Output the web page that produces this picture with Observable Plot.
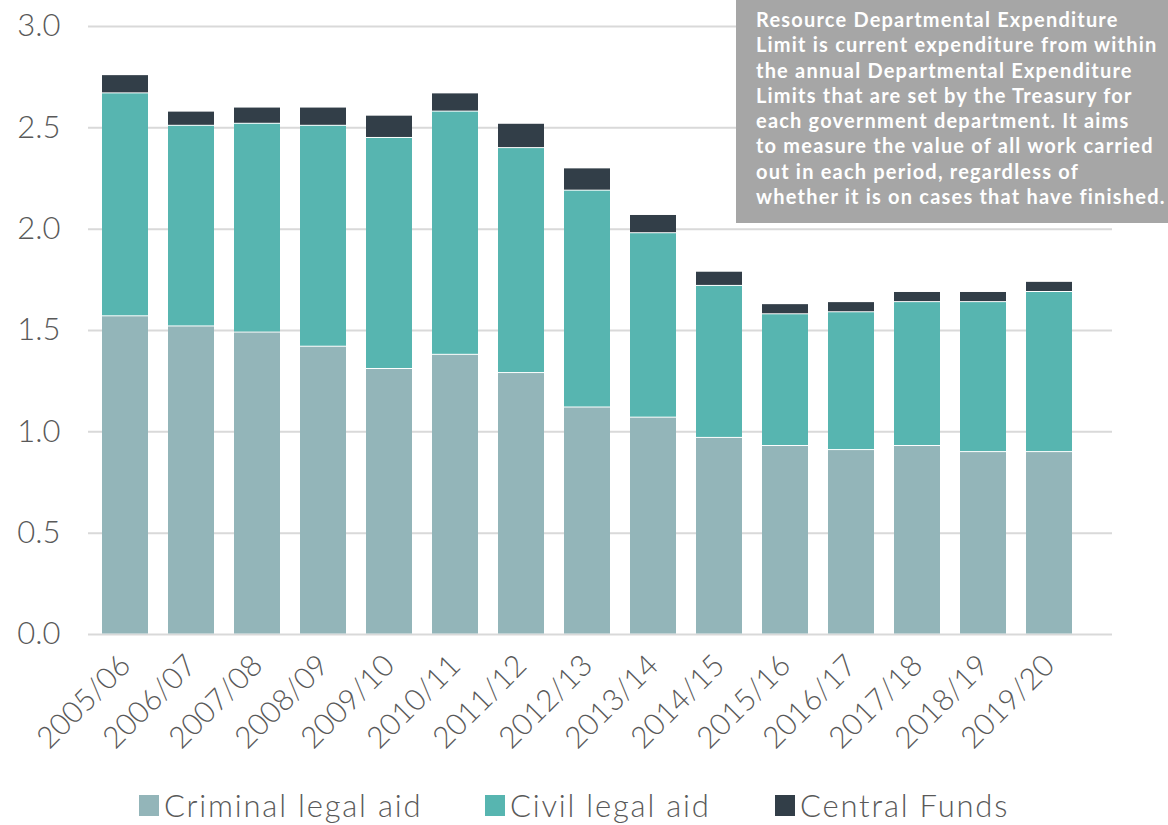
<!DOCTYPE html>
<html>
<head>
<meta charset="utf-8">
<script src="https://cdn.jsdelivr.net/npm/d3@7"></script>
<script src="https://cdn.jsdelivr.net/npm/@observablehq/plot@0.6"></script>
<style>
  body { margin: 0; background: #fff; font-family: Lato, "Noto Sans", sans-serif; }
  #wrap { position: relative; width: 1168px; height: 825px; overflow: hidden; }
  #note {
    position: absolute; left: 736px; top: 0; width: 432px; height: 223px;
    background: #a6a6a6; color: #fff; box-sizing: border-box;
    padding: 7px 0 0 20px; font-weight: bold; font-size: 20px; line-height: 25.3px;
    letter-spacing: 1.2px; white-space: nowrap;
  }
  #legend { position: absolute; left: 0; top: 0; width: 1168px; height: 825px; pointer-events: none; }
  #legend .item {
    position: absolute; top: 789px; display: flex; align-items: center; gap: 5px;
    font-size: 31px; line-height: 32px; color: #595959; font-weight: 300; letter-spacing: 1.8px;
  }
  #legend .sw { width: 20px; height: 21px; display: inline-block; }
</style>
</head>
<body>
<div id="wrap">
  <div id="chart"></div>
  <div id="note"></div>
  <div id="legend"></div>
</div>
<script>
const years = ["2005/06","2006/07","2007/08","2008/09","2009/10","2010/11","2011/12","2012/13","2013/14","2014/15","2015/16","2016/17","2017/18","2018/19","2019/20"];
const criminal = [1.57,1.52,1.49,1.42,1.31,1.38,1.29,1.12,1.07,0.97,0.93,0.91,0.93,0.90,0.90];
const civil    = [1.10,0.99,1.03,1.09,1.14,1.20,1.11,1.07,0.91,0.75,0.65,0.68,0.71,0.74,0.79];
const central  = [0.09,0.07,0.08,0.09,0.11,0.09,0.12,0.11,0.09,0.07,0.05,0.05,0.05,0.05,0.05];
const seriesNames = ["Criminal legal aid","Civil legal aid","Central Funds"];
const seriesColors = ["#93b5b9","#57b5b0","#323e48"];
const yTicks = [0,0.5,1.0,1.5,2.0,2.5,3.0];
const noteLines = [
  "Resource Departmental Expenditure",
  "Limit is current expenditure from within",
  "the annual Departmental Expenditure",
  "Limits that are set by the Treasury for",
  "each government department. It aims",
  "to measure the value of all work carried",
  "out in each period, regardless of",
  "whether it is on cases that have finished."
];

const seriesValues = [criminal, civil, central];
const rows = [];
years.forEach((y, i) => {
  seriesNames.forEach((s, j) => rows.push({year: y, series: s, value: seriesValues[j][i]}));
});

const chart = Plot.plot({
  width: 1168,
  height: 790,
  marginLeft: 88,
  marginRight: 56,
  marginTop: 26,
  marginBottom: 156,
  style: {fontFamily: "Lato, 'Noto Sans', sans-serif", color: "#595959", background: "#fff", fontWeight: 300},
  x: {domain: years, range: [99, 1074], paddingInner: 0.307, paddingOuter: 0, label: null},
  y: {domain: [0, 3], label: null},
  color: {domain: seriesNames, range: seriesColors},
  marks: [
    Plot.ruleY(yTicks, {stroke: "#d9d9d9", strokeWidth: 2}),
    Plot.barY(rows, {x: "year", y: "value", fill: "series", z: "series", order: seriesNames, insetTop: 0.5, insetBottom: 0.5}),
    Plot.axisY({ticks: yTicks, tickFormat: d => d.toFixed(1), tickSize: 0, tickPadding: 28, fontSize: 31, fill: "#595959", label: null}),
    Plot.axisX({tickRotate: -45, tickSize: 0, tickPadding: 26, fontSize: 30, fill: "#595959", label: null})
  ]
});
document.getElementById("chart").appendChild(chart);

document.getElementById("note").innerHTML = noteLines.map(l => `<div>${l}</div>`).join("");

const legendLeft = [139, 485, 775];
const legend = document.getElementById("legend");
seriesNames.forEach((s, i) => {
  const item = document.createElement("div");
  item.className = "item";
  item.style.left = legendLeft[i] + "px";
  item.innerHTML = `<span class="sw" style="background:${seriesColors[i]}"></span><span>${s}</span>`;
  legend.appendChild(item);
});
</script>
</body>
</html>
